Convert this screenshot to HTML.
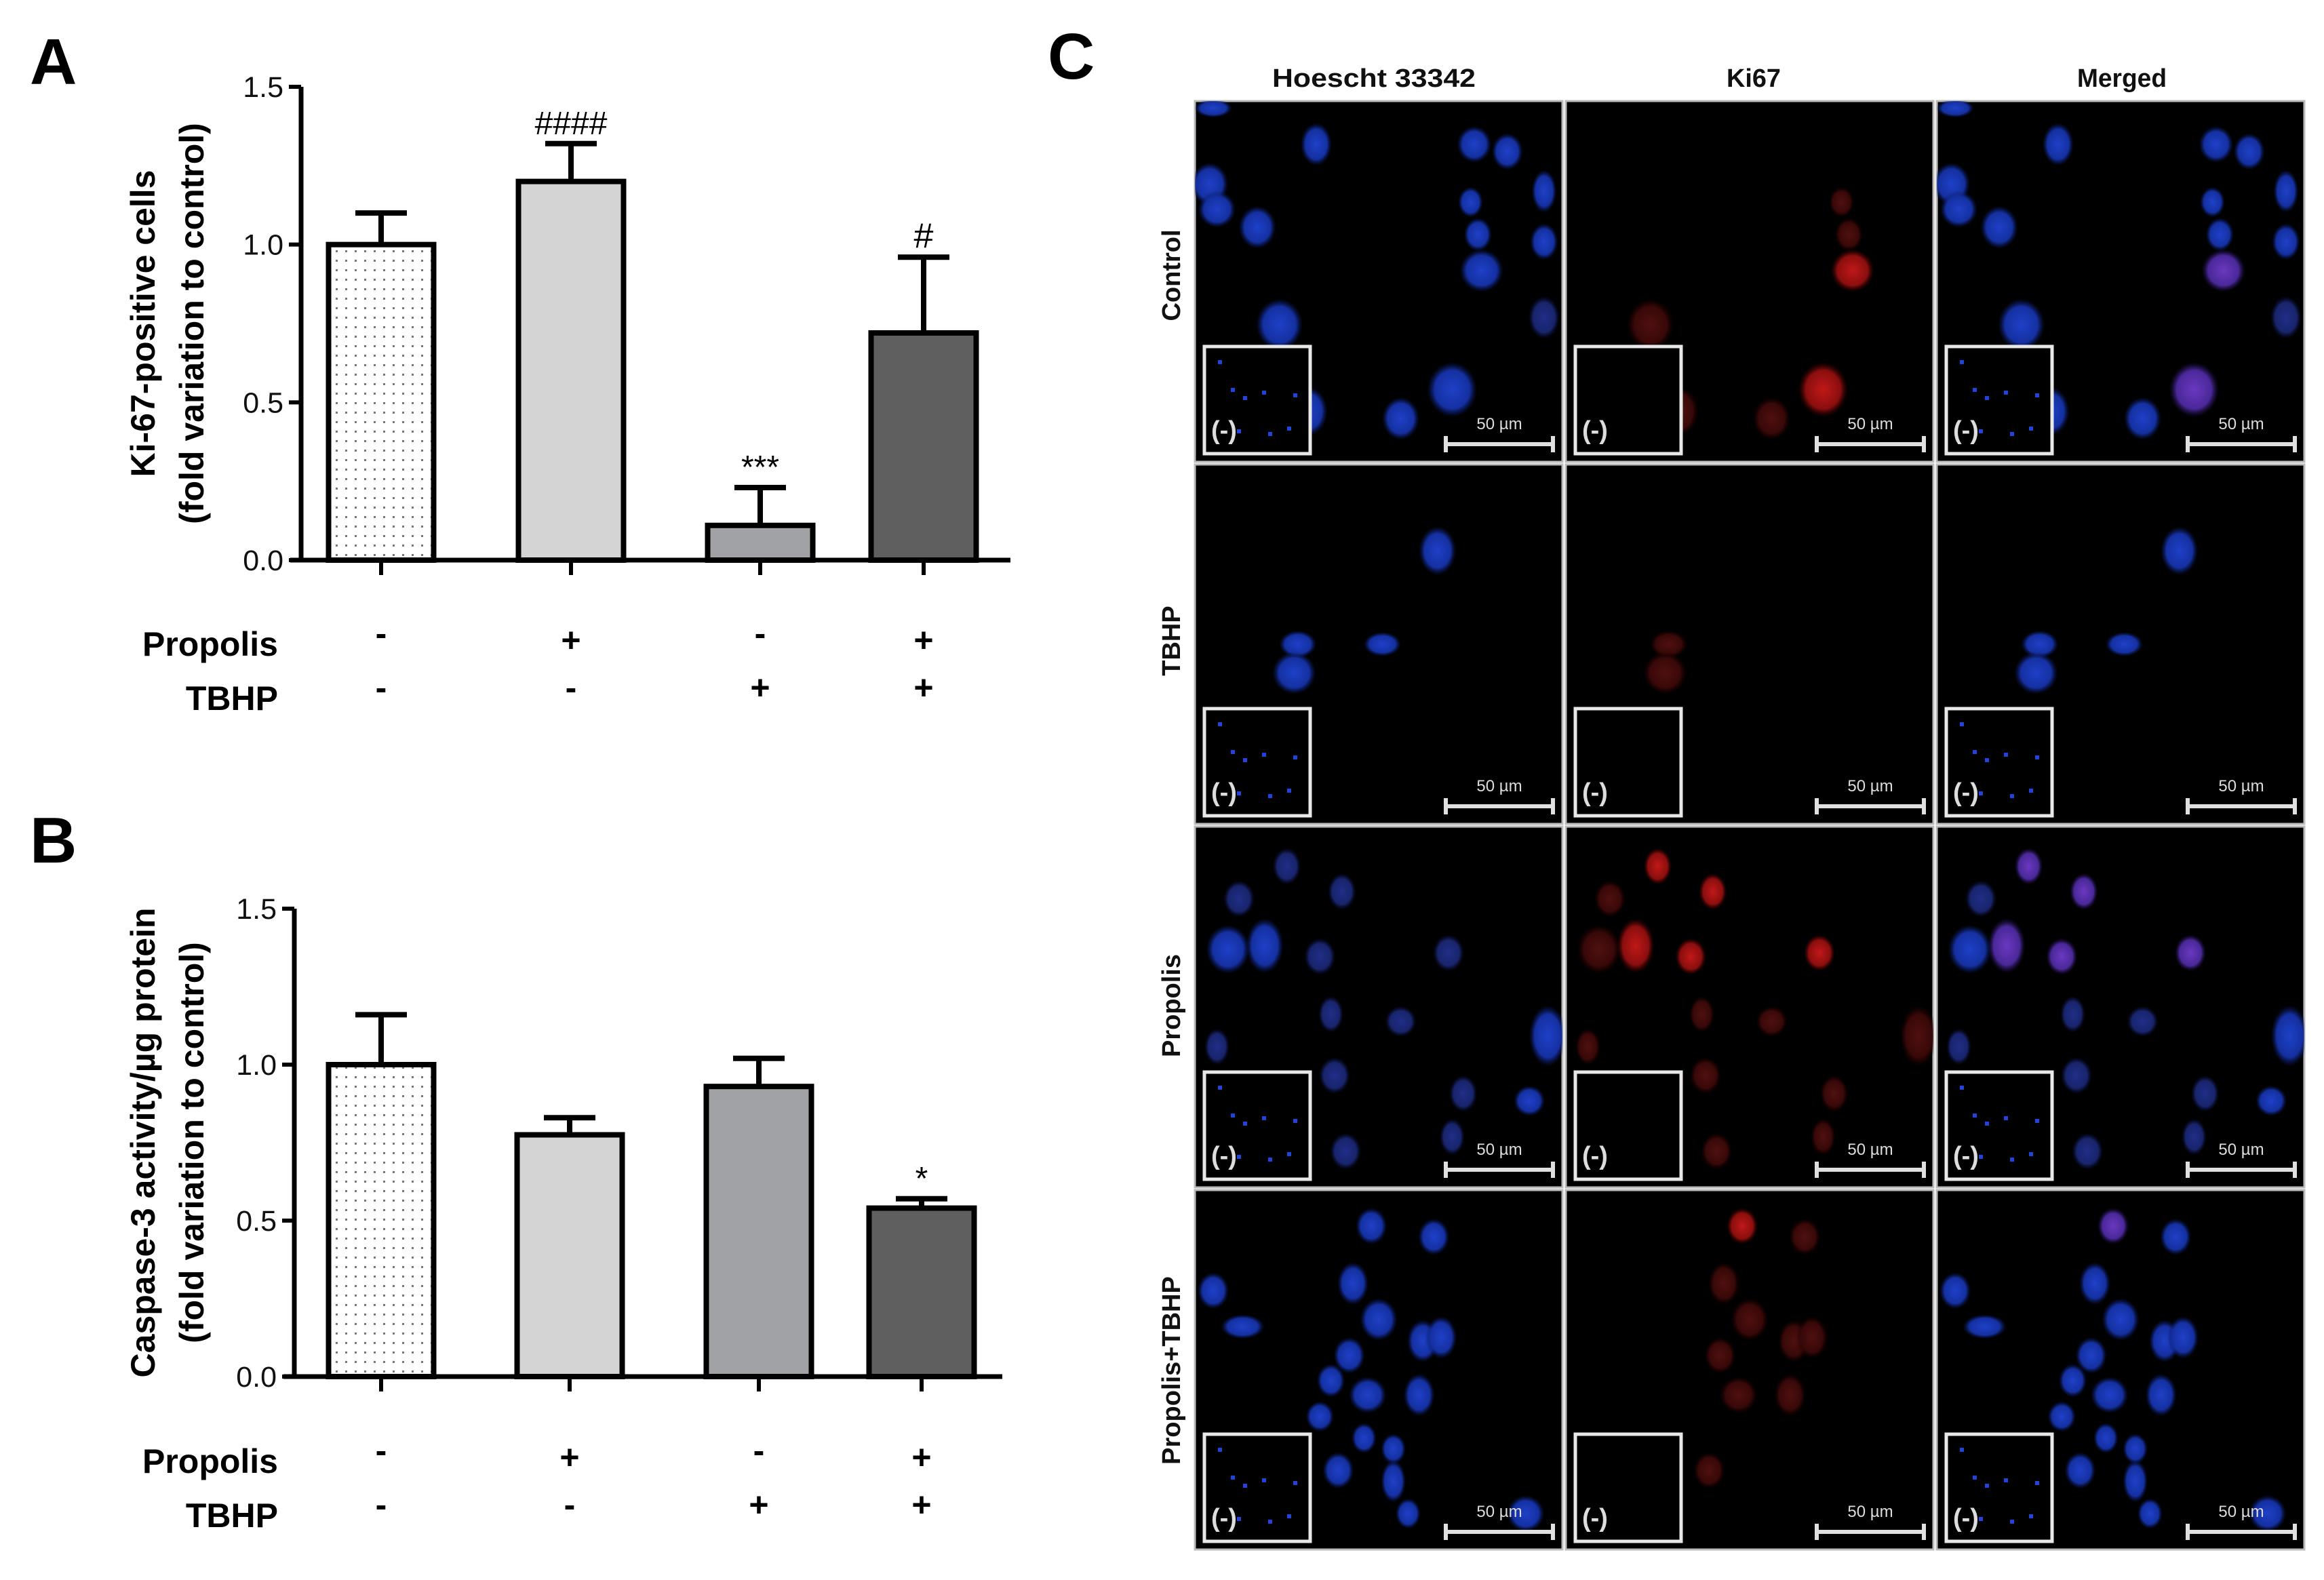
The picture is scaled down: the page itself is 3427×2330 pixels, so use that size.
<!DOCTYPE html>
<html><head><meta charset="utf-8">
<style>
html,body{margin:0;padding:0;background:#fff;}
body{width:3427px;height:2330px;overflow:hidden;position:relative;font-family:"Liberation Sans",Arial,sans-serif;}
svg{position:absolute;left:0;top:0;}
</style></head>
<body>
<svg id="fig" width="3427" height="2330" viewBox="0 0 3427 2330" xmlns="http://www.w3.org/2000/svg">
<defs>
<pattern id="dots" width="14" height="14" patternUnits="userSpaceOnUse">
<rect width="14" height="14" fill="#fff"/><rect x="5" y="5" width="3" height="3" fill="#777"/>
</pattern>
<radialGradient id="gB"><stop offset="0" stop-color="#1f40c8"/><stop offset="0.7" stop-color="#1430a0"/><stop offset="1" stop-color="#0a1860" stop-opacity="0"/></radialGradient>
<radialGradient id="gBd"><stop offset="0" stop-color="#202e88"/><stop offset="0.7" stop-color="#18246a"/><stop offset="1" stop-color="#0a1040" stop-opacity="0"/></radialGradient>
<radialGradient id="gR"><stop offset="0" stop-color="#c01818"/><stop offset="0.7" stop-color="#8a0e0e"/><stop offset="1" stop-color="#400000" stop-opacity="0"/></radialGradient>
<radialGradient id="gRd"><stop offset="0" stop-color="#501010"/><stop offset="0.7" stop-color="#380808"/><stop offset="1" stop-color="#200000" stop-opacity="0"/></radialGradient>
<radialGradient id="gM"><stop offset="0" stop-color="#6a38c0"/><stop offset="0.7" stop-color="#4a2898"/><stop offset="1" stop-color="#201050" stop-opacity="0"/></radialGradient>
</defs>
<g id="chartA"></g>
<g id="chartB"></g>
<g id="panelC"></g>
</svg>
<script>
// ---- Chart data ----
const categories = ["Control","Propolis","TBHP","Propolis+TBHP"];
const propolisSigns = ["-","+","-","+"];
const tbhpSigns = ["-","-","+","+"];
const ki67Values = [1.0, 1.2, 0.11, 0.72];
const ki67Errors = [0.10, 0.12, 0.12, 0.24];
const ki67Marks = ["", "####", "***", "#"];
const caspValues = [1.0, 0.775, 0.93, 0.54];
const caspErrors = [0.16, 0.055, 0.09, 0.03];
const caspMarks = ["", "", "", "*"];
const yTicks = [0.0, 0.5, 1.0, 1.5];
const yTickLabels = ["0.0","0.5","1.0","1.5"];
const barFills = ["url(#dots)","#d4d4d4","#a1a2a6","#5f5f5f"];

const NS="http://www.w3.org/2000/svg";
function mk(tag, attrs, parent){const e=document.createElementNS(NS,tag);for(const k in attrs)e.setAttribute(k,attrs[k]);parent.appendChild(e);return e;}

function drawChart(g, cfg){
  const yScale = v => cfg.y0 - (v/1.5)*(cfg.y0-cfg.y15);
  const xCenter = i => cfg.centers[i];
  const bw = 155;
  const L = mk('text',{x:cfg.letterX,y:cfg.letterY,'font-size':96,'font-weight':'bold',fill:'#000'},g);
  L.textContent=cfg.letter;
  
  
  const t1 = mk('text',{transform:`translate(${cfg.titleX1},${(cfg.y0+cfg.y15)/2}) rotate(-90)`,'text-anchor':'middle','font-size':50,'font-weight':'bold',fill:'#000'},g);
  t1.textContent=cfg.title1;
  
  
  const t2 = mk('text',{transform:`translate(${cfg.titleX2},${(cfg.y0+cfg.y15)/2}) rotate(-90)`,'text-anchor':'middle','font-size':50,'font-weight':'bold',fill:'#000'},g);
  t2.textContent=cfg.title2;
  
  
  cfg.values.forEach((v,i)=>{
    const x=xCenter(i)-bw/2, y=yScale(v);
    const r=mk('rect',{x:x,y:y,width:bw,height:cfg.y0-y,fill:barFills[i],stroke:'#000','stroke-width':8},g);
    
    
    const ye=yScale(v+cfg.errors[i]);
    const el=mk('path',{d:`M${xCenter(i)},${y} V${ye} M${xCenter(i)-38},${ye} H${xCenter(i)+38}`,stroke:'#000','stroke-width':8,fill:'none'},g);
    
    
    if(cfg.marks[i]){
      const m=mk('text',{x:xCenter(i),y:ye-14,'text-anchor':'middle','font-size':cfg.marks[i]=="#"?52:48,fill:'#000'},g);
      m.textContent=cfg.marks[i];
      
      
    }
    const tk=mk('line',{x1:xCenter(i),x2:xCenter(i),y1:cfg.y0,y2:cfg.y0+22,stroke:'#000','stroke-width':6},g);
    
    
    const p=mk('text',{x:xCenter(i),y:cfg.rowP+(propolisSigns[i]=="+"?10:0),'text-anchor':'middle','font-size':50,'font-weight':'bold',fill:'#000'},g);
    p.textContent=propolisSigns[i];
    
    
    const tb=mk('text',{x:xCenter(i),y:cfg.rowT,'text-anchor':'middle','font-size':50,'font-weight':'bold',fill:'#000'},g);
    tb.textContent=tbhpSigns[i];
    
    
  });
  const ya=mk('line',{x1:cfg.axX,x2:cfg.axX,y1:cfg.y15,y2:cfg.y0+3,stroke:'#000','stroke-width':7},g);
  
  
  const xa=mk('line',{x1:cfg.xStart,x2:cfg.xEnd,y1:cfg.y0,y2:cfg.y0,stroke:'#000','stroke-width':7},g);
  
  
  yTicks.forEach((v,i)=>{
    const y=yScale(v);
    const tl=mk('line',{x1:cfg.axX-18,x2:cfg.axX,y1:y,y2:y,stroke:'#000','stroke-width':6},g);
    
    
    const tt=mk('text',{x:cfg.axX-26,y:y+15,'text-anchor':'end','font-size':43,fill:'#111'},g);
    tt.textContent=yTickLabels[i];
    
    
  });
  const pl=mk('text',{x:410,y:cfg.rowP+16,'text-anchor':'end','font-size':50,'font-weight':'bold',fill:'#000'},g);
  pl.textContent="Propolis";
  
  
  const tl2=mk('text',{x:410,y:cfg.rowT+16,'text-anchor':'end','font-size':50,'font-weight':'bold',fill:'#000'},g);
  tl2.textContent="TBHP";
  
  
}
drawChart(document.getElementById('chartA'),{letter:'A',letterX:44,letterY:124,title1:'Ki-67-positive cells',title2:'(fold variation to control)',titleX1:228,titleX2:300,
  y0:826,y15:128,axX:444,xStart:428,xEnd:1490,centers:[562,842,1121,1362],values:ki67Values,errors:ki67Errors,marks:ki67Marks,rowP:951,rowT:1031});
drawChart(document.getElementById('chartB'),{letter:'B',letterX:44,letterY:1272,title1:'Caspase-3 activity/\u00b5g protein',title2:'(fold variation to control)',titleX1:228,titleX2:300,
  y0:2030,y15:1340,axX:434,xStart:418,xEnd:1478,centers:[562,840,1119,1359],values:caspValues,errors:caspErrors,marks:caspMarks,rowP:2156,rowT:2236});

// ---- Panel C microscopy ----
const colNames=["Hoescht 33342","Ki67","Merged"];
const rowNames=["Control","TBHP","Propolis","Propolis+TBHP"];
const colX=[1762,2309,2856];
const colW=542;
const rowY=[149,685,1219,1755];
const rowH=[532,530,532,530];
const nuclei=[
 [[0.05,0.02,0.06,0.03,0,2],[0.33,0.12,0.05,0.07,0,2],[0.76,0.12,0.055,0.06,0,2],[0.85,0.14,0.05,0.06,0,2],[0.04,0.23,0.06,0.07,0,2],[0.06,0.3,0.06,0.06,0,2],[0.17,0.35,0.06,0.07,0,2],[0.75,0.28,0.04,0.05,1,2],[0.95,0.25,0.04,0.07,0,2],[0.77,0.37,0.045,0.055,1,2],[0.95,0.39,0.045,0.06,0,2],[0.78,0.47,0.07,0.07,2,2],[0.23,0.62,0.075,0.085,1,2],[0.95,0.6,0.05,0.07,0,1],[0.7,0.8,0.08,0.09,2,2],[0.56,0.88,0.06,0.07,1,2],[0.31,0.86,0.06,0.08,1,2]],
 [[0.66,0.24,0.06,0.08,0,2],[0.28,0.5,0.06,0.045,1,2],[0.51,0.5,0.06,0.04,0,2],[0.27,0.58,0.07,0.07,1,2]],
 [[0.25,0.11,0.045,0.06,2,1],[0.12,0.2,0.05,0.06,1,1],[0.4,0.18,0.045,0.06,2,1],[0.09,0.34,0.07,0.08,1,2],[0.19,0.33,0.06,0.09,2,2],[0.34,0.36,0.05,0.06,2,1],[0.69,0.35,0.05,0.06,2,1],[0.37,0.52,0.04,0.06,1,1],[0.56,0.54,0.05,0.05,1,1],[0.06,0.61,0.04,0.06,1,1],[0.96,0.58,0.06,0.1,1,2],[0.38,0.69,0.05,0.06,1,1],[0.73,0.74,0.045,0.06,1,1],[0.7,0.86,0.04,0.06,1,1],[0.91,0.76,0.05,0.05,0,2],[0.41,0.9,0.05,0.06,1,1]],
 [[0.48,0.1,0.05,0.06,2,2],[0.65,0.13,0.05,0.06,1,2],[0.05,0.28,0.05,0.06,0,2],[0.13,0.38,0.07,0.04,0,2],[0.43,0.26,0.05,0.07,1,2],[0.5,0.36,0.06,0.07,1,2],[0.62,0.42,0.05,0.07,1,2],[0.67,0.41,0.05,0.07,1,2],[0.42,0.46,0.05,0.06,1,2],[0.37,0.53,0.045,0.055,0,2],[0.47,0.57,0.06,0.06,1,2],[0.61,0.57,0.05,0.07,1,2],[0.34,0.63,0.045,0.05,0,2],[0.46,0.69,0.04,0.05,0,2],[0.54,0.72,0.04,0.05,0,2],[0.39,0.78,0.05,0.06,1,2],[0.54,0.81,0.04,0.07,0,2],[0.58,0.9,0.04,0.05,0,2],[0.9,0.9,0.06,0.06,0,2]]
];
const gC=document.getElementById('panelC');
const Lc=mk('text',{x:1545,y:116,'font-size':96,'font-weight':'bold',fill:'#000'},gC);
Lc.textContent="C";


const colCenters=[2026,2586,3129];
colNames.forEach((n,c)=>{
  const t=mk('text',{x:colCenters[c],y:128,'text-anchor':'middle','font-size':38,'font-weight':'bold',fill:'#111',textLength:c==0?300:(c==1?80:132),lengthAdjust:'spacingAndGlyphs'},gC);
  t.textContent=n;
  
  
});
const rowCenters=[406,945,1483,2021];
rowNames.forEach((n,r)=>{
  const t=mk('text',{transform:`translate(1740,${rowCenters[r]}) rotate(-90)`,'text-anchor':'middle','font-size':38,'font-weight':'bold',fill:'#111'},gC);
  t.textContent=n;
  
  
});
rowY.forEach((ry,r)=>{
  colX.forEach((cx,c)=>{
    const h=rowH[r];
    const cell=mk('g',{},gC);
    
    
    mk('rect',{x:cx,y:ry,width:colW,height:h,fill:'#000',stroke:'#bbb','stroke-width':3},cell);
    const clip='clip'+r+c;
    const cp=mk('clipPath',{id:clip},cell);
    mk('rect',{x:cx,y:ry,width:colW,height:h},cp);
    const ng=mk('g',{'clip-path':`url(#${clip})`},cell);
    nuclei[r].forEach(nu=>{
      let fill=null;
      if(c==0) fill = nu[5]==2?'url(#gB)':'url(#gBd)';
      else if(c==1) fill = nu[4]==2?'url(#gR)':(nu[4]==1?'url(#gRd)':null);
      else fill = nu[4]==2?'url(#gM)':(nu[5]==2?'url(#gB)':'url(#gBd)');
      if(fill) mk('ellipse',{cx:cx+nu[0]*colW,cy:ry+nu[1]*h,rx:nu[2]*colW*0.85,ry:nu[3]*h*0.85,fill:fill},ng);
    });
    const ix=cx+14, iy=ry+h-170;
    mk('rect',{x:ix,y:iy,width:156,height:158,fill:'#000',stroke:'#e8e8e8','stroke-width':5},cell);
    if(c!=1){
      for(let k=0;k<8;k++){ mk('rect',{x:ix+20+((k*37)%120),y:iy+20+((k*53)%110),width:6,height:6,fill:'#2244dd'},cell); }
    }
    const it=mk('text',{x:ix+10,y:iy+136,'font-size':38,'font-weight':'bold',fill:'#ddd'},cell);
    it.textContent="(-)";
    
    
    const sx=cx+370, sy=ry+h-26;
    const sb=mk('path',{d:`M${sx},${sy} H${sx+158} M${sx},${sy-12} V${sy+12} M${sx+158},${sy-12} V${sy+12}`,stroke:'#e0e0e0','stroke-width':6,fill:'none'},cell);
    
    
    const st=mk('text',{x:sx+79,y:sy-22,'text-anchor':'middle','font-size':24,fill:'#ddd'},cell);
    st.textContent="50 \u00b5m";
    
    
  });
});
</script>
</body></html>
